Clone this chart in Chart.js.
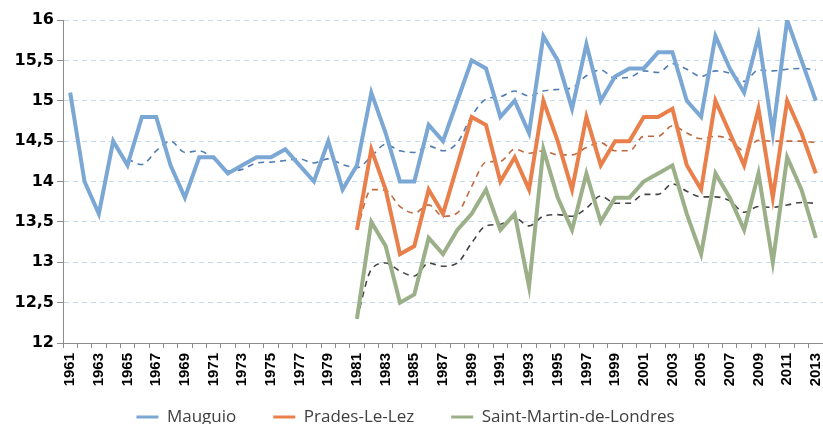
<!DOCTYPE html>
<html>
<head>
<meta charset="utf-8">
<script src="https://cdn.jsdelivr.net/npm/chart.js@4"></script>
<style>
  html, body { margin: 0; padding: 0; background: #ffffff; }
  #wrap { width: 823px; height: 424px; position: relative; }
</style>
</head>
<body>
<div id="wrap"><canvas id="c" width="823" height="424"></canvas></div>
<script>
const years = ['1961','1962','1963','1964','1965','1966','1967','1968','1969','1970',
  '1971','1972','1973','1974','1975','1976','1977','1978','1979','1980',
  '1981','1982','1983','1984','1985','1986','1987','1988','1989','1990',
  '1991','1992','1993','1994','1995','1996','1997','1998','1999','2000',
  '2001','2002','2003','2004','2005','2006','2007','2008','2009','2010',
  '2011','2012','2013'];

const seriesNames = ['Mauguio', 'Prades-Le-Lez', 'Saint-Martin-de-Londres'];

const mauguio = [15.1,14.0,13.6,14.5,14.2,14.8,14.8,14.2,13.8,14.3,
  14.3,14.1,14.2,14.3,14.3,14.4,14.2,14.0,14.5,13.9,
  14.2,15.1,14.6,14.0,14.0,14.7,14.5,15.0,15.5,15.4,
  14.8,15.0,14.6,15.8,15.5,14.9,15.7,15.0,15.3,15.4,
  15.4,15.6,15.6,15.0,14.8,15.8,15.4,15.1,15.8,14.6,
  16.0,15.5,15.0];

const mauguioAvg = [null,null,null,null,14.28,14.21,14.38,14.5,14.36,14.38,
  14.28,14.13,14.15,14.23,14.24,14.26,14.28,14.23,14.28,14.21,
  14.17,14.31,14.46,14.38,14.36,14.44,14.38,14.48,14.81,15.02,
  15.05,15.12,15.06,15.12,15.14,15.16,15.31,15.38,15.28,15.29,
  15.37,15.35,15.46,15.39,15.30,15.37,15.34,15.24,15.38,15.37,
  15.39,15.40,15.38];

const prades = [null,null,null,null,null,null,null,null,null,null,
  null,null,null,null,null,null,null,null,null,null,
  13.4,14.4,13.9,13.1,13.2,13.9,13.6,14.2,14.8,14.7,
  14.0,14.3,13.9,15.0,14.5,13.9,14.8,14.2,14.5,14.5,
  14.8,14.8,14.9,14.2,13.9,15.0,14.6,14.2,14.9,13.8,
  15.0,14.6,14.1];

const pradesAvg = [null,null,null,null,null,null,null,null,null,null,
  null,null,null,null,null,null,null,null,null,null,
  13.4,13.9,13.89,13.69,13.61,13.71,13.57,13.61,13.94,14.24,
  14.25,14.40,14.35,14.38,14.33,14.33,14.42,14.48,14.38,14.38,
  14.56,14.56,14.69,14.60,14.53,14.56,14.52,14.38,14.51,14.50,
  14.50,14.50,14.48];

const saintMartin = [null,null,null,null,null,null,null,null,null,null,
  null,null,null,null,null,null,null,null,null,null,
  12.3,13.5,13.2,12.5,12.6,13.3,13.1,13.4,13.6,13.9,
  13.4,13.6,12.7,14.4,13.8,13.4,14.1,13.5,13.8,13.8,
  14.0,14.1,14.2,13.6,13.1,14.1,13.8,13.4,14.1,13.0,
  14.3,13.9,13.3];

const saintMartinAvg = [null,null,null,null,null,null,null,null,null,null,
  null,null,null,null,null,null,null,null,null,null,
  12.3,12.91,12.99,12.89,12.83,12.99,12.95,12.99,13.24,13.45,
  13.47,13.55,13.45,13.57,13.59,13.57,13.67,13.82,13.73,13.73,
  13.84,13.84,13.97,13.88,13.81,13.81,13.76,13.62,13.69,13.68,
  13.71,13.74,13.73];

const yMin = 12, yMax = 16, yStep = 0.5;

const solidColors = ['#7ba7d4', '#e9804c', '#9bb088'];
const dashColors = ['#4f7db3', '#c0683f', '#444444'];

const legendGap = 37;       // horizontal spacing between legend items
const legendCenterY = 417;  // vertical centre of the legend row
const legendShiftX = -6;

function solid(label, data, color) {
  return { label, data, borderColor: color, backgroundColor: color, borderWidth: 4,
    pointRadius: 0, tension: 0, fill: false };
}
function dashed(label, data, color) {
  return { label, data, borderColor: color, backgroundColor: color, borderWidth: 1.6,
    borderDash: [6, 5], pointRadius: 0, tension: 0.3, cubicInterpolationMode: 'monotone', fill: false };
}

new Chart(document.getElementById('c'), {
  type: 'line',
  data: {
    labels: years,
    datasets: [
      solid(seriesNames[0], mauguio, solidColors[0]),
      solid(seriesNames[1], prades, solidColors[1]),
      solid(seriesNames[2], saintMartin, solidColors[2]),
      dashed(seriesNames[0] + ' (moyenne)', mauguioAvg, dashColors[0]),
      dashed(seriesNames[1] + ' (moyenne)', pradesAvg, dashColors[1]),
      dashed(seriesNames[2] + ' (moyenne)', saintMartinAvg, dashColors[2])
    ]
  },
  options: {
    responsive: false,
    animation: false,
    layout: { padding: { top: 20, left: 0, right: 0, bottom: 0 } },
    plugins: {
      tooltip: { enabled: false },
      legend: {
        position: 'bottom',
        maxHeight: 26,
        labels: {
          font: { family: 'Open Sans', size: 17 },
          color: '#404040',
          boxWidth: 22,
          boxHeight: 3,
          padding: legendGap,
          generateLabels: (chart) => Chart.defaults.plugins.legend.labels.generateLabels(chart)
            .filter(i => i.datasetIndex < 3)
            .map(i => Object.assign({}, i, { lineWidth: 0, fillStyle: i.strokeStyle, lineDash: [] }))
        }
      }
    },
    scales: {
      x: {
        offset: true,
        afterFit: (s) => { s.height = 55; s.paddingLeft = 0; s.paddingRight = 0; },
        border: { display: true, color: '#8c8c8c', width: 1 },
        grid: { display: true, drawOnChartArea: false, drawTicks: true, tickLength: 5, color: '#8c8c8c', offset: true },
        ticks: {
          autoSkip: false, maxRotation: 90, minRotation: 90, padding: 5,
          color: '#000000',
          font: { family: 'Liberation Sans', size: 15, weight: 'bold' },
          callback: function(value, index) { return index % 2 === 0 ? years[index] : ''; }
        }
      },
      y: {
        min: yMin, max: yMax,
        afterFit: (s) => { s.width = 63; },
        border: { display: true, color: '#8c8c8c', width: 1, dash: [5, 4] },
        grid: { color: '#c5daef', lineWidth: 1, tickLength: 6, tickColor: '#8c8c8c', drawTicks: true },
        ticks: {
          stepSize: yStep, padding: 3, color: '#000000',
          font: { family: 'DejaVu Sans', size: 16, weight: 'bold' },
          callback: (v) => String(v).replace('.', ',')
        }
      }
    }
  },
  plugins: [{
    id: 'legendPlacement',
    afterLayout(chart) {
      const lg = chart.legend;
      if (!lg) return;
      const fontSize = 17;
      lg.top = legendCenterY - fontSize / 2 - legendGap;
      lg.left += legendShiftX;
      lg.right += legendShiftX;
    }
  }]
});
</script>
</body>
</html>
